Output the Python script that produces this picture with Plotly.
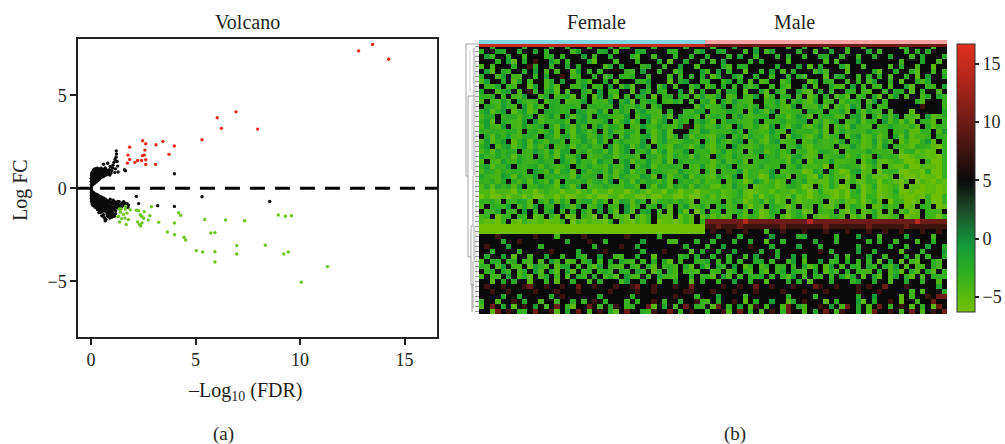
import plotly.graph_objects as go

# ---------- volcano data ----------
red_pts = [(12.8,7.4),(13.47,7.74),(14.24,6.95),(6.94,4.12),(6.04,3.8),(6.24,3.23),(7.97,3.19),(5.31,2.62),
           (2.47,2.56),(2.62,2.4),(3.11,2.35),(3.44,2.53),(3.99,2.28),(1.85,2.22),(3.73,1.83),(1.77,1.79),
           (2.58,2.06),(2.55,1.79),(2.46,1.76),(1.85,1.56),(1.74,1.36),(2.1,1.4),(2.23,1.5),(2.42,1.5),
           (2.62,1.54),(2.62,1.29),(3.09,1.29)]
green_pts = [(11.31,-4.21),(10.06,-5.05),(9.22,-3.53),(9.44,-3.42),(8.34,-3.06),(6.97,-3.08),(6.97,-3.53),
             (5.93,-3.41),(5.93,-3.96),(5.04,-3.35),(5.34,-3.42),(5.73,-2.4),(5.93,-2.38),(5.44,-1.67),
             (6.44,-1.7),(7.35,-1.74),(8.96,-1.43),(9.3,-1.5),(9.59,-1.47),(3.65,-2.35),(4.0,-2.49),
             (4.45,-2.63),(4.53,-2.78),(4.19,-1.31),(4.29,-1.45),(3.99,-1.86),(3.24,-1.83),(2.89,-0.99),
             (2.82,-1.47),(2.55,-1.25),(2.74,-1.7),(2.52,-1.61),(2.44,-1.86),(2.23,-1.81),(2.38,-2.03),
             (2.32,-1.95),(2.17,-1.18),(2.28,-1.2),(2.36,-1.42),(2.42,-1.5),(1.88,-1.15),(1.66,-0.97),
             (1.64,-1.11),(1.36,-1.11),(1.44,-1.11),(1.41,-1.28),(1.32,-1.5),(1.37,-1.81),(1.47,-1.63),
             (1.63,-1.6),(1.72,-1.33),(1.79,-1.68),(1.69,-1.94),(1.55,-1.4),(1.28,-1.52)]
black_outliers = [(3.99,0.79),(5.31,-0.45),(8.55,-0.7),(3.19,-0.93),(3.99,-0.97),(2.28,-0.82),(2.17,-0.43),
                  (1.6,1.0),(1.65,0.95),(1.21,2.02),(1.22,1.85),(1.2,1.68),(1.15,1.55),(1.1,1.4),(1.25,1.45),
                  (0.8,1.35),(0.6,1.3),(0.92,1.18),(1.05,1.25),(1.28,1.2),(1.17,1.05),(1.3,0.88),(1.14,0.85)]
black_upper = [(0.02,0.05),(0.03,0.14),(0.02,0.22),(0.04,0.3),(0.02,0.38),(0.03,0.46),(0.02,0.54),(0.04,0.62),
               (0.03,0.7),(0.03,0.78),(0.05,0.86),(0.08,0.2),(0.1,0.28),(0.08,0.36),(0.11,0.44),(0.09,0.52),
               (0.1,0.6),(0.11,0.68),(0.09,0.76),(0.12,0.84),(0.1,0.92),(0.13,1.0),(0.16,0.26),(0.17,0.36),
               (0.18,0.46),(0.16,0.55),(0.19,0.64),(0.17,0.72),(0.2,0.8),(0.18,0.88),(0.21,0.96),(0.2,1.06),
               (0.25,0.34),(0.26,0.44),(0.24,0.54),(0.27,0.62),(0.25,0.71),(0.28,0.8),(0.26,0.9),(0.29,0.98),
               (0.3,1.08),(0.33,0.42),(0.34,0.52),(0.32,0.6),(0.35,0.7),(0.33,0.8),(0.36,0.88),(0.35,0.97),
               (0.38,1.05),(0.41,0.5),(0.43,0.6),(0.4,0.7),(0.44,0.78),(0.42,0.88),(0.45,0.98),(0.48,1.08),
               (0.5,0.58),(0.52,0.68),(0.5,0.78),(0.54,0.86),(0.52,0.95),(0.57,1.03),(0.6,0.64),(0.62,0.72),
               (0.6,0.85),(0.65,0.95),(0.68,1.1),(0.7,0.7),(0.73,0.8),(0.76,0.92),(0.72,1.02),(0.8,0.76),
               (0.84,0.88),(0.88,1.0),(0.95,0.82),(1.0,0.95),(0.9,0.72),(1.03,1.1)]
black_lower = [(0.02,-0.05),(0.03,-0.14),(0.02,-0.22),(0.04,-0.3),(0.02,-0.38),(0.03,-0.46),(0.02,-0.54),(0.04,-0.62),
               (0.03,-0.7),(0.05,-0.78),(0.07,-0.86),(0.09,-0.2),(0.1,-0.28),(0.08,-0.36),(0.11,-0.44),(0.09,-0.52),
               (0.1,-0.6),(0.11,-0.68),(0.09,-0.76),(0.12,-0.84),(0.1,-0.92),(0.16,-0.26),(0.17,-0.34),(0.18,-0.44),
               (0.16,-0.53),(0.19,-0.62),(0.17,-0.7),(0.2,-0.78),(0.18,-0.86),(0.21,-0.94),(0.2,-1.02),(0.25,-0.32),
               (0.26,-0.42),(0.24,-0.52),(0.27,-0.6),(0.25,-0.69),(0.28,-0.78),(0.26,-0.86),(0.29,-0.96),(0.3,-1.04),
               (0.33,-0.36),(0.34,-0.46),(0.32,-0.56),(0.35,-0.66),(0.33,-0.76),(0.36,-0.84),(0.35,-0.94),(0.38,-1.02),
               (0.36,-1.12),(0.41,-0.42),(0.43,-0.5),(0.4,-0.6),(0.44,-0.7),(0.42,-0.8),(0.45,-0.88),(0.43,-0.98),
               (0.46,-1.08),(0.44,-1.18),(0.5,-0.46),(0.52,-0.56),(0.5,-0.66),(0.54,-0.76),(0.52,-0.86),(0.55,-0.96),
               (0.53,-1.06),(0.56,-1.16),(0.54,-1.26),(0.6,-0.52),(0.62,-0.62),(0.6,-0.72),(0.64,-0.82),(0.62,-0.92),
               (0.65,-1.02),(0.63,-1.12),(0.66,-1.22),(0.7,-0.58),(0.72,-0.68),(0.7,-0.78),(0.74,-0.88),(0.72,-0.98),
               (0.75,-1.08),(0.73,-1.2),(0.76,-1.3),(0.8,-0.66),(0.83,-0.76),(0.8,-0.86),(0.84,-0.96),(0.82,-1.3),
               (0.85,-1.4),(0.8,-1.5),(0.72,-1.68),(0.68,-1.75),(0.6,-1.42),(0.52,-1.48),(0.38,-1.3),(0.92,-0.72),
               (0.95,-0.84),(0.9,-0.96),(0.94,-1.1),(0.92,-1.25),(0.88,-1.38),(1.0,-1.42),(0.95,-1.5),(0.9,-1.6),
               (1.02,-0.74),(1.05,-0.86),(1.0,-1.0),(1.08,-1.12),(1.03,-1.28),(1.1,-1.4),(1.15,-0.76),(1.2,-0.88),
               (1.12,-0.98),(1.18,-1.2),(1.25,-0.8),(1.3,-0.92),(1.22,-1.05),(1.35,-0.72),(1.42,-0.86),(1.5,-0.78),
               (1.58,-0.9),(1.62,-0.8),(1.72,-0.82),(1.8,-0.9),(1.76,-1.02),(1.12,-1.5),(1.0,-1.55),(1.32,-1.05),
               (1.28,-0.7),(1.38,-0.95),(1.48,-0.98),(1.56,-0.72),(0.84,-1.1),(0.88,-1.2),(0.78,-1.42),(0.62,-1.55),
               (0.46,-1.3),(0.31,-1.14),(0.98,-1.2),(1.12,-0.7),(1.18,-1.36),(0.66,-1.62),(0.92,-0.58),(1.06,-0.64)]

# ---------- heatmap data: one letter per cell, Female|Male ----------
level = {"a":-6,"b":-4.2,"c":-3,"d":-1.8,"e":-0.5,"k":5,"m":7.5,"r":10,"R":14}
heat_rows = [
"kkdkk kkkck kkkck kdkkk ckkkd kcckk kkdkk kkkck kk|kckkk dkkkc kkkkk ckkdk kkckk kdkkc kkkkk kcdkk kkckk",
"ckkdc kkdkk dkckk kkcdk kkcdk ckkkd ckkkk dckkk cd|kkdck kkckd kcdkk kkckk bkkdk kckkk dkckk kkckd kckkk",
"kdckk ckkbk kkcck bkkkd kckkc kkkdb kkckk kckkd kk|dkkkc kdkkb kkkck dkkck kcdkk ckkbk kckkd kkkck dkkkc",
"kkkck dbkck mkkdc kckkk dbkkk ckkkc kkkdk bkkck kc|kckdk kkkck dkkkk ckkkk kkckb kkkdk kkkkk kckkk dkkbk",
"bkckk kdkkm ckkbk kdkck kkkbc kdkkk bckkb kkdkk bk|kkkcb kcdkk kkkck kkdkb kckkk dbkkc kkkkb kdkkc kkbkk",
"kdbkc bkkck dkbkc kkbdk ckbkk kkbck dkkck kbckk kd|bkdkc kkbkk ckdkb kckkk bdckk kbkkk kcbkk ckkdb kkckb",
"ckkbd kcbkk bkdkk mkcbk kdkbc kcbdk kbkkk ckbkd kc|kbckk dbkkc kkbkk dkcbk kkbkc dkkbk ckdkb kkckb kdkkc",
"bdkkc kbdkc kkbck dkkbc bkkdk bkkkc bdkkk bkcdk kb|ckkbd kckbk bckkb dkkkb ckdbk kckbk bdkkc kbkkd bckkk",
"kbcdk bckkb dkbcb kkcbd kcbkd kbdbk kckbd kbkkc dk|bdkck bkdbc kkbkc bkkdk bkkcb bkdkc kbckb kkdbk kbckd",
"dkkbc dkbkm bkcdb kbkkc bkdkb ckkbk dbkcb kkdkb kc|kkbkd ckbkk dbkcb kkdbb kckbk kdbkc bkkbk cdkbk ckkbk",
"cbdkb kcbdk kbdkc bdbkc kbdkc bkbkd ckbkb dkcbk bd|bcdkb bkcbd kbbkc dkbkb ckdkb cbkbd kcbkb dkbkk bckdb",
"bkcbd bkdbc bkbcd kbcbd kcbbd kcdbk bcdkb cdbkc kb|dbkcb dbcbk kcbdb kbcbb dkcbk bdbck bdkbk kkkkd bkkkb",
"kcdbd bckdb cbkcd bcdbk cdbcb kdbcd bkcdk kkkkk bd|bcbdk cbdbc kdbcb bdkbc bdbkb cbdbk ckcbk kkkkk mkkkb",
"cdbcd kbcdb bkdcd bckdc bcdbk cdbkc dbcbk dkkbc dc|kcbbd cbkbd cbdkb cbbkd cbkbc dbkcb dbckb kkkbk kkkkc",
"bcdkb cdbcd kbcdc kdbcd bkcdb cbdkb cdcbd bkcbd bk|bdcbk bdcbb cdkbc bbdcb kbdcb bkcdb kcbdb dkbcb kdbbc",
"cdbkc bcbdk dbcbd cbkcd bcbdk bcdbc kdbcd kbcbk cd|cbkbd cbcbd kcbbd cbcdk bcbbd kcbdb cbkdb cbdbk cbbkb",
"bdcbd kcbdc bdkcb dcbdb kcdbc dbkcb dbcdb cbdmk bc|bcdbb kdcbc bbdkc bcdbb cdbkb cbdbc bkcbd bcbdb kcbcb",
"cbdcb cdbkd cbcdb kcbdc bdkbd cbcdb kcbcd bkkkd bd|dcbbc dbkcb bcdbb kcbcd bcbkb dcbbc dbcbk bcdbb cbkbd",
"kcbdb dcbcd bkdcb cdbcd bcdbc kbdcb cdbcd bckdb cb|bbcdk bcbdb cbcbk bdcbb cdbbc kbcdb bcbbk cbdbc bbkcb",
"bdbcd kbcdb dcbcd bkcbd cbdbk cdbcb dkbcd cbbcd bk|cbdbb cdkbc bbcdb cbkbc dbcbb dkbcb bdbcb kbcbb cdbkb",
"cdkbc dbcdb cbdkc bdbcb dcbkd bcdbc dbkcb bdcbb cd|bbcbk dbcbb dcbbk cbdbb cbcbk bcdbb bcbdk bcbbd cbbab",
"bcbdb cdkbc dcbdb cdkbc bdcbd bcdkc bdbcd bcbdk cb|cbbdb cbkbc dbbcb dkbcb bcdbb kcbbc dbcbb kbcdb babkb",
"dbcdb cbdbc kdbcb dbcdk bcbdc bcbdb kcdbc bdbcb db|bkcbb dbcbb kdbcb bcdbb bkcbc dbbcb bkdbc baabc babab",
"bkcbd bcdbc bdcbk dcbdb cbdcb kcdbc bdcbd bkcbd cb|cbbdb bcbkb cdbbc bdbkb cbcdb bcbkb cdbab bcaab kbaab",
"cdbcb dkcbd cbdbc bdkcb dcbbd cbdkb cdbcb dcbkc bd|bbcbd kbcbb dcbbk cbdbc bbakb cdbba bcbkb abcaa babab",
"bcdbc bdcbk dcbdb cdbkc bdcbd bcdbc bkdcb cbdbc bk|cbkbc bdbcb bcdkb cbbab dbkcb abcdb bkabc baabb acaab",
"dbcbd cbdbc dkcbd bcbdb cdkbc bdbcb dcbkd bcbdb cb|bbcbb dkbcb abdbc bkbcb adbcb babkb cabab kbaab aabab",
"cbdbc kdbcb dcbdb kcdbc bdcbd kbcbd bcdbc bkcbd bc|bcbkb cbabd cbbab kcbdb babcb kbbab cbabb aabka baaba",
"bcbdb cbdkc bdcbb dcbdk bcbdb cbcdb kcbdc bdbcb db|cbabb dbcka bcbab dcbab kbbcb abkba bcaab bakbb aabaa",
"bbabb bacbb abcbb abbab cabba bbabc babba cbabb ab|bcbab bcbaa bcabb cabba bcbaa babca bbaab caaba aabaa",
"abaab abbab aabba baabb abaab babba abaab baaba ab|cbbab bcbab acbab bcaba bbcaa babba cbaab bbaab abaab",
"cbdbk bcdcb kcbdb cbkbc dbcbk bdcbd bkbcb dbcbb kb|bcbkb cbabb dbcab kbabc bbkab cbaba bcbka bcaab kbaab",
"bkdcb dkbcb dkcbk dcbdk bcdkb ckdbc kbdkc bkbdb bc|bkbcb bkcab bkcbb abkbc kbbac kbcbb kabcb bkabk cbkaa",
"kbcdk bckdk bkcdk bkdkc bkdkc bkdbk cdkbk bkcak ab|kcbkb bcbkb abcbk bbcab kbcbk babkb bcbkb kbcab kbcbk",
"bbkab bkcbk abkbb kabkb bakbk bbakb abkba bkabb ka|cbbab kbbcb abbkb abcbk babbc bkabb kcbab bkabb kbcab",
"babab kbabb abaab bkaba bbaab kbaab abkaa baabb kb|rrrrr rrRrr rrrrr rrrrR rrrrr rrrrr rrrrr rrrrR rrrrr",
"aaaaa aaaaa aaaaa aaaaa aaaaa aaaaa aaaaa aaaaa aa|mmrmm mrmmm mmmmr mmmmm mmrmm mmmmm rmmmm mmrmm mmmmm",
"aaaaa aaaaa aaaaa aaaaa aaaaa aaaaa aaaaa aaaaa aa|kmkkm kkmkk kckkm kkkmk kkmkk kmkkk mkkmk kmkkk mkkmk",
"kkkmk kkkkk mkkkc kkkkm kkkkk kkmkk kkkck kkkkk kk|kkdkk kckkk kkdkk kkcdk kkkkc kkkdk kkckk kkdkk kkckk",
"kkkkc kkmkk kkkkk kdkkk mkkck kkkkk dkkkk cbkkk ck|kdkkk ckkdk kbkkc kkkkk dkkkc kkkkk ckdkk bkkkc kkdkk",
"kmkkk dkkkk kckkk kkkkk kdkkk kmkkd kkkkk kkkck kk|ckkdk kkkmk kkckk kkdkk kckkk kkkck kkkkd kkckk kdkkc",
"kkdkk kkckk kkkmk kkkck kkkmk kkkkk ckkkm kkkkb kc|kkckk dkkkk dkkck kkkkk kmkck kkkdk kckkk kbkkk ckkkd",
"kckkd kbkkc kkdkk bkkcb kkdkk cbkkd kkbkk kkbck dk|kdkkc kkckd kkkck kdkck kkkkd kckkk dkkbk kkdkc kbkkc",
"bkdck bdkbc kbkdc kbckb dkbkc kdbck bkdkc bkbkk cb|dkbkc kbkkc dkbkk cdkbk kdkbc kdkbk ckbkd kbkcb kkdbk",
"cbkbd kcbkb dcbkb cdkbk cbdkb cbkdb kcbkb dbkcb kd|bkcbk dkbck bdkbc kbkdb ckbdk bkcbk dbkcb dkbkc bkdbk",
"kbdkc bkbck dbkcb kdbkb ckbdb kcbkd bkbck dbkbc bk|kcbkb ckdbk cbkbd kcbbk dkbcb kdkbc bkdkb cbkdb kcbkb",
"bkcbk dkbcb kbdkc kbkcb kdkbc bkdcb kbkdb cbkkd kb|cbkdb kbkcb dkbkc bdkbk cbkbk dbckb kcbkb dkcbk bkdcb",
"kkbkc kdkkb kkckb kkdkk bkckk kbdkk ckkbk kdkkb kc|kkbkk dkkck kbkkk dkckb kkkck kkbdk kckkb kkdkk ckkbk",
"kmkkm kkkmr kkmkk mkkrk kmkkk mkkmr kkmkk kmkkr kk|kkkmk kmkkr kkmkk kmkkk rmkkm kkkmk mkkrk kkmkk kkkdk",
"kkmkk mkkkk mkkkm kkkmk kkkkm kkkkm kkmkk kkkmm kk|kmkkk mkkkm kkkkm kkkmk kkmkk kkkmk kkmkk kkkck bkkkc",
"kkkkc kkdkk kkkck mkkkk kkckk kkkdk kkkkk kmkkk ck|kkdkk kkckk kkkkk dkkkk ckkkk kkkck kdkkk kbkck kmkrr",
"ckkbk kmkck kbkkc kkdkb kmkck kkbkc kkmkb kkckk mb|bkckk mkbkc kkdkk bckmk kkbkc kkkdb kckkm kbkkc kkrkk",
"bkrkc kbkmk dkbkr kcbkk rkbkc mkbdk krbkc kbkrk cb|kbrkc kdkbm kckkb rkcbk kmkdk brkck bkrkc kmkbk ckbrk",
"kkbrk mkcbk rkkmb kdkrk bkmkc bkrkk cbmkk rkbkm kk|ckkmb krkck bkmkc rkkbk dkrkb mkkck brkkm kckrk bkmkr",
]
# how much greener or limer each sample column reads overall (vertical stripes)
sample_shift = [0,.8,-.8,0,.8,.8,-.8,0,.8,-.8,.8,0,0,.8,-.8,.8,0,-.8,.8,.8,0,-.8,.8,0,.8,-.8,0,.8,-.8,0,.8,.8,-.8,0,.8,-.8,0,.8,.8,-.8,0,.8,
                0,-.8,.8,.8,0,.8,.8,-.8,0,.8,0,-.8,.8,.8,0,-.8,.8,.8,0,-.8,0,.8,-.8,.8,0,0,-.8,.8,.8,-.8,0,.8,-.8,.8,0,.8,-.8,0,-.8,-.8,0,.8,-.8,0,.8]
group_labels = ["Female","Male"]
group_widths = [42,45]
group_colors = ["#7fd3e3","#f9a3a3"]
top_gene_female = 15
top_gene_male = 10

tick_x = [0,5,10,15]
tick_y = [-5,0,5]
tick_cb = [-5,0,5,10,15]

dendro_main = [(466,44,479,44),(466,44,466,176),(466,176,468,176),(468,96,468,257),(468,96,474,96),
               (468,257,471,257),(471,226,471,285),(471,226,474,226),(471,285,474,285),(474,48,474,176),
               (473,176,473,225),(474,226,474,262),(473,262,473,308),(472,285,472,312)]
dendro_light = [(470,50,470,92),(472,100,472,170),(476,60,476,120),(476,130,476,215),(476,232,476,300)]

F = 16.7; LOW = -6.3
colorscale_stops = [(-6.3,"#74c000"),(-3,"#30b020"),(-0.5,"#129a3a"),(2.5,"#1e4a2a"),(5,"#0a0a0a"),
                    (7.5,"#3d1310"),(10,"#6d1b16"),(13,"#a52419"),(16.7,"#e2301f")]

W, H = 1005, 444
def xd(a,b): return [a/W, b/W]
def yd(top,bot): return [1-bot/H, 1-top/H]
SERIF = "Liberation Serif"
INK = "#231f20"

fig = go.Figure()

def pts(trace_pts, color, size=3.4):
    fig.add_trace(go.Scatter(x=[p[0] for p in trace_pts], y=[p[1] for p in trace_pts], mode="markers",
                             marker=dict(color=color, size=size, line=dict(width=0)), showlegend=False,
                             xaxis="x", yaxis="y", hoverinfo="skip"))
pts(black_upper+black_lower+black_outliers, "#0b0b0b")
pts(red_pts, "#e8261c")
pts(green_pts, "#6cc61e")
fig.add_trace(go.Scatter(x=[-0.766,16.55], y=[0,0], mode="lines", line=dict(color="#000", width=3, dash="15px,10px"),
                         showlegend=False, xaxis="x", yaxis="y", hoverinfo="skip"))

# heat matrix
female_w, male_w = group_widths
band_rows = {29,30,36,37}
z = []
for ri, row in enumerate(heat_rows):
    f, m = row.replace(" ","").split("|")
    f = f.ljust(female_w, f[-1])[:female_w]
    m = m.ljust(male_w, m[-1])[:male_w]
    cells = []
    for ci, c in enumerate(f+m):
        v = level[c]
        if v < 3 and not (ri in band_rows and ci < female_w):
            v = max(-6, v + sample_shift[ci])
        cells.append(v)
    z.append(cells)
cs = [[(v-LOW)/(F-LOW), c] for v,c in colorscale_stops]
fig.add_trace(go.Heatmap(z=z, xaxis="x2", yaxis="y2", colorscale=cs, zmin=LOW, zmax=F, hoverinfo="skip",
    colorbar=dict(x=957/W, xanchor="left", xpad=0, y=1-44/H, yanchor="top", ypad=0, len=268/H, lenmode="fraction",
                  thickness=18, thicknessmode="pixels", outlinewidth=1, outlinecolor="#333", tickvals=tick_cb,
                  ticks="outside", ticklen=4, tickwidth=1.5, tickcolor=INK, tickfont=dict(family=SERIF,size=18,color=INK))))
fig.add_trace(go.Heatmap(z=[[top_gene_female]*female_w+[top_gene_male]*male_w], xaxis="x3", yaxis="y3", colorscale=cs,
                         zmin=LOW, zmax=F, showscale=False, hoverinfo="skip"))
fig.add_trace(go.Heatmap(z=[[0]*female_w+[1]*male_w], xaxis="x4", yaxis="y4", showscale=False, hoverinfo="skip",
                         colorscale=[[0,group_colors[0]],[1,group_colors[1]]], zmin=0, zmax=1))
def seg(lst, color, width):
    xs, ys = [], []
    for a,b,c,d in lst:
        xs += [a,c,None]; ys += [b,d,None]
    fig.add_trace(go.Scatter(x=xs, y=ys, mode="lines", line=dict(color=color,width=width), xaxis="x5", yaxis="y5",
                             showlegend=False, hoverinfo="skip"))
seg(dendro_light, "#c4c4c4", 0.8)
seg(dendro_main, "#909090", 0.8)
leaves = []
for i in range(len(heat_rows)):
    y = 44 + (i+0.5)*270/len(heat_rows)
    leaves.append((475,y,479,y))
seg(leaves, "#808080", 0.8)

def label(text, px, py, size=20, **kw):
    return dict(text=text, x=px/W, y=1-py/H, xref="paper", yref="paper", showarrow=False, xanchor="center",
                yanchor="middle", font=dict(size=size), **kw)

fig.update_layout(
    width=W, height=H, margin=dict(l=0,r=0,t=0,b=0), autosize=False, paper_bgcolor="white", plot_bgcolor="white",
    font=dict(family=SERIF, size=18, color=INK), showlegend=False,
    xaxis=dict(domain=xd(78,437), range=[-0.62,16.55], tickvals=tick_x, ticks="outside", ticklen=6, tickwidth=1.5,
               tickcolor=INK, showgrid=False, zeroline=False, showline=True, mirror=True, linecolor="#222", linewidth=1.5),
    yaxis=dict(domain=yd(39,337), range=[-8,8.04], tickvals=tick_y, ticks="outside", ticklen=6, tickwidth=1.5,
               tickcolor=INK, showgrid=False, zeroline=False, showline=True, mirror=True, linecolor="#222", linewidth=1.5),
    xaxis2=dict(domain=xd(479,947), visible=False, range=[-0.5,86.5]),
    yaxis2=dict(domain=yd(44,314), visible=False, range=[53.5,-0.5]),
    xaxis3=dict(domain=xd(479,947), visible=False, range=[-0.5,86.5]),
    yaxis3=dict(domain=yd(44,47), visible=False, range=[-0.5,0.5]),
    xaxis4=dict(domain=xd(479,947), visible=False, range=[-0.5,86.5]),
    yaxis4=dict(domain=yd(40,44), visible=False, range=[-0.5,0.5]),
    xaxis5=dict(domain=xd(464,479), visible=False, range=[464,479]),
    yaxis5=dict(domain=yd(40,316), visible=False, range=[316,40]),
    annotations=[
        label("Volcano", 247, 22),
        label(group_labels[0], 596, 22),
        label(group_labels[1], 794, 22),
        label("(a)", 223, 434, 19),
        label("(b)", 735, 434, 19),
        label("\u2013Log<sub>10</sub> (FDR)", 245, 391),
        label("Log FC", 20, 190, 20, textangle=-90),
    ],
)
fig.write_html("out.html", config={"displayModeBar": False},
               post_script="document.body.style.margin='0';document.body.style.overflow='hidden';")
